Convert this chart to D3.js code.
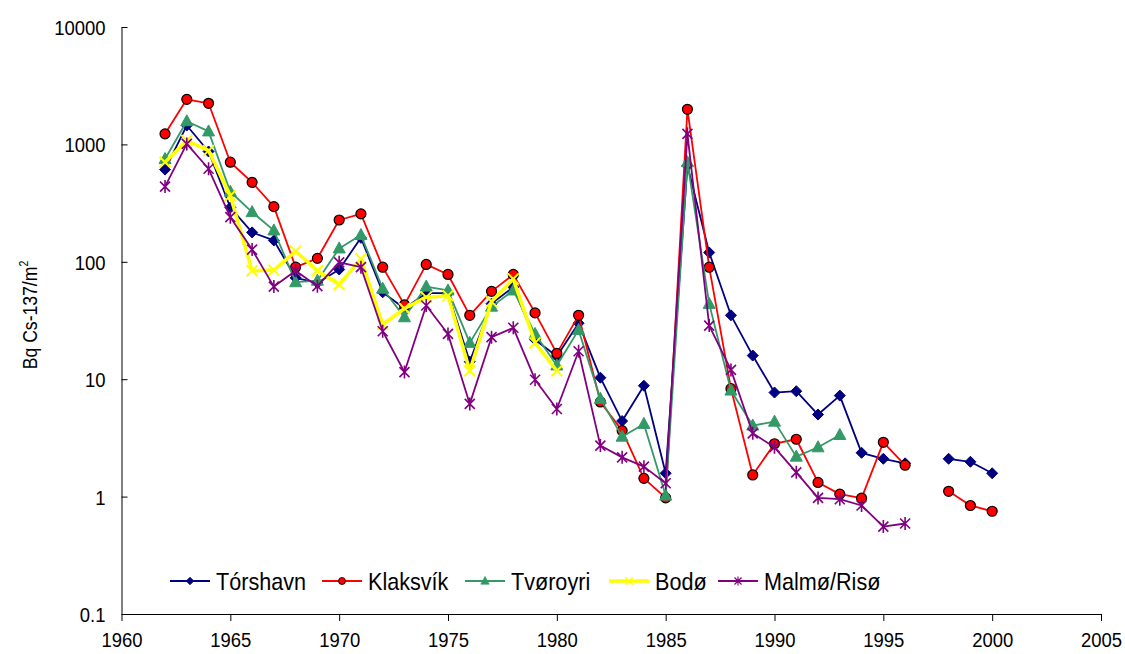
<!DOCTYPE html>
<html>
  <head>
    <style>
      body, html { margin: 0; padding: 0; background: #fff; }
      text { font-family: "Liberation Sans", Arial, sans-serif; }
    </style>
  </head>
  <body>
    <svg id="svg" width="1125" height="654"></svg>
    <script src="https://cdn.jsdelivr.net/npm/d3@7"></script>
    <script>
      const years = d3.range(1962, 2001);
      // values per year from 1962 to 2000, null = no value
      const torshavn = [610, 1450, 870, 290, 178, 152, 73, 66, 86, 160, 55, 40, 54, 54, 14.1, 44, 61, 21.7, 15.7, 30,
        10.3, 4.4, 8.8, 1.58, 660, 120, 35, 15.9, 7.7, 7.9, 5.0, 7.25, 2.36, 2.1, 1.92, null, 2.1, 1.98, 1.58];
      const klaksvik = [1230, 2420, 2240, 705, 475, 295, 90, 107, 227, 256, 90, 43, 95, 78, 35, 56, 78, 36.7, 16.6, 35,
        6.4, 3.65, 1.43, 0.975, 1990, 90, 8.3, 1.53, 2.82, 3.08, 1.32, 1.05, 0.97, 2.9, 1.85, null, 1.11, 0.84, 0.75];
      const tvoroyri = [750, 1575, 1290, 395, 265, 185, 67, 69, 130, 169, 59, 33.7, 61.5, 57, 20.4, 41.5, 57, 24.3, 13.1, 26.3,
        6.8, 3.24, 4.16, 1.02, 705, 43.8, 8.0, 4.03, 4.35, 2.19, 2.63, 3.35];
      const bodo = [705, 1080, 885, 366, 84, 85, 123, 84, 64, 106, 29.2, 40, 50, 51.5, 11.8, 45.8, 71.5, 20.4, 11.8];
      const malmo = [437, 1010, 620, 240, 127, 61.5, 84, 62, 99, 90, 25.6, 11.5, 42.4, 24.3, 6.16, 22.8, 27.4, 9.9, 5.58, 17.3,
        2.72, 2.16, 1.8, 1.3, 1230, 28.6, 12.0, 3.46, 2.63, 1.61, 0.975, 0.95, 0.84, 0.555, 0.59];

      const seriesNames = ['Tórshavn', 'Klaksvík', 'Tvøroyri', 'Bodø', 'Malmø/Risø'];
      const xTicks = d3.range(1960, 2006, 5);
      const yTicks = [0.1, 1, 10, 100, 1000, 10000];

      const series = [
        { name: seriesNames[0], values: torshavn, color: '#000080', width: 1.8, marker: 'diamond' },
        { name: seriesNames[1], values: klaksvik, color: '#ff0000', width: 1.8, marker: 'circle' },
        { name: seriesNames[2], values: tvoroyri, color: '#339966', width: 1.8, marker: 'triangle' },
        { name: seriesNames[3], values: bodo, color: '#ffff00', width: 3.5, marker: 'x' },
        { name: seriesNames[4], values: malmo, color: '#800080', width: 1.8, marker: 'star' }
      ];

      const svg = d3.select('#svg');
      const plotLeft = 121.5, plotRight = 1101, plotTop = 27, plotBottom = 614;
      const squeeze = 0.88; // the original text is drawn a bit narrow

      const xScale = d3.scaleLinear().domain([1960, 2005]).range([plotLeft, plotRight]);
      const yScale = d3.scaleLog().domain([0.1, 10000]).range([plotBottom, plotTop]);

      const xAxis = d3.axisBottom(xScale).tickValues(xTicks).tickFormat(d3.format('d'))
        .tickSize(7).tickSizeOuter(0);
      // y ticks point into the plot
      const yAxis = d3.axisLeft(yScale).tickValues(yTicks).tickFormat((d) => String(d))
        .tickSize(-6).tickSizeOuter(0);

      const gx = svg.append('g').attr('transform', `translate(0, ${plotBottom})`).call(xAxis);
      const gy = svg.append('g').attr('transform', `translate(${plotLeft}, 0)`).call(yAxis);
      [gx, gy].forEach((g) => {
        g.selectAll('path, line').attr('stroke', '#000').attr('stroke-width', 1);
        g.selectAll('text').attr('fill', '#000').style('font-size', '21px')
          .style('font-family', '"Liberation Sans", Arial, sans-serif')
          .attr('transform', `scale(${squeeze}, 1)`);
      });
      gx.selectAll('text').attr('y', 33).attr('dy', 0);
      gy.selectAll('text').attr('x', -16 / squeeze).attr('dy', '0.36em').attr('text-anchor', 'end');

      const yLabel = svg.append('text')
        .attr('transform', `translate(37, 315) rotate(-90) scale(${squeeze}, 1)`)
        .attr('text-anchor', 'middle')
        .style('font-size', '20px');
      yLabel.append('tspan').text('Bq Cs-137/m');
      yLabel.append('tspan').attr('dy', -9).style('font-size', '12px').text('2');

      const symbols = {
        diamond: (g, c) => g.append('path').attr('d', 'M0,-5.5L5.5,0L0,5.5L-5.5,0Z').attr('fill', c).attr('stroke', c),
        circle: (g, c) => g.append('circle').attr('r', 5).attr('fill', c).attr('stroke', '#000').attr('stroke-width', 1.2),
        triangle: (g, c) => g.append('path').attr('d', 'M0,-6.5L6,4.5L-6,4.5Z').attr('fill', c).attr('stroke', c),
        x: (g, c) => g.append('path').attr('d', 'M-5.5,-5.5L5.5,5.5M-5.5,5.5L5.5,-5.5').attr('stroke', c).attr('stroke-width', 2).attr('fill', 'none'),
        star: (g, c) => g.append('path').attr('d', 'M-5,-5L5,5M-5,5L5,-5M0,-6.5L0,6.5').attr('stroke', c).attr('stroke-width', 1.6).attr('fill', 'none')
      };

      const linegen = d3.line()
        .defined((d) => d.v !== null)
        .x((d) => xScale(d.year))
        .y((d) => yScale(d.v));

      const graph = svg.append('g');
      series.forEach((s) => {
        const pts = s.values.map((v, i) => ({ year: years[i], v }));
        graph.append('path')
          .attr('d', linegen(pts))
          .attr('fill', 'none')
          .attr('stroke', s.color)
          .attr('stroke-width', s.width)
          .attr('stroke-linejoin', 'round');
        pts.filter((d) => d.v !== null).forEach((d) => {
          const g = graph.append('g').attr('transform', `translate(${xScale(d.year)}, ${yScale(d.v)})`);
          symbols[s.marker](g, s.color);
        });
      });

      // legend
      const legendX = [170, 322, 465, 609, 718];
      const legendY = 581;
      const legend = svg.append('g');
      series.forEach((s, i) => {
        const g = legend.append('g').attr('transform', `translate(${legendX[i]}, ${legendY})`);
        g.append('line').attr('x1', 0).attr('x2', 40).attr('y1', 0).attr('y2', 0)
          .attr('stroke', s.color).attr('stroke-width', s.width);
        const m = g.append('g').attr('transform', 'translate(20, 0) scale(0.7)');
        symbols[s.marker](m, s.color);
        g.append('text').attr('transform', 'translate(46, 0) scale(0.9, 1)').attr('dy', '0.36em')
          .style('font-size', '24px').attr('fill', '#000').text(s.name);
      });
    </script>
  </body>
</html>
